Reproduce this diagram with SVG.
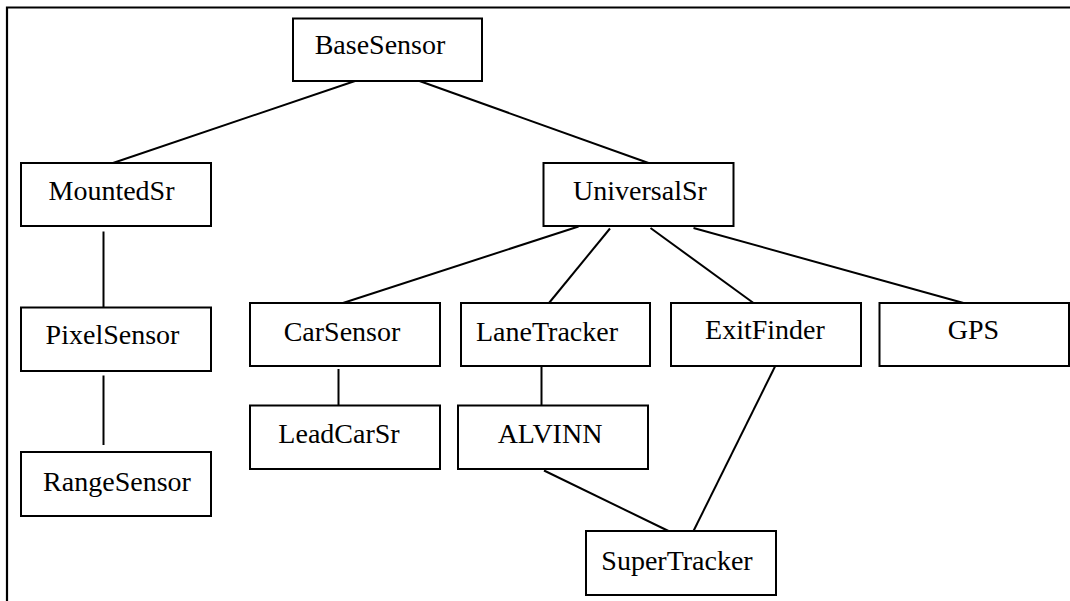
<svg xmlns="http://www.w3.org/2000/svg" width="1070" height="601" viewBox="0 0 1070 601">
  <style>
    .box { fill: #fff; stroke: #000; stroke-width: 2; }
    .lbl { font-family: "Liberation Serif", "Times New Roman", serif; font-size: 28px; fill: #000; text-anchor: middle; }
    .edge { stroke: #000; stroke-width: 2; fill: none; }
    .frame { stroke: #000; stroke-width: 2.2; fill: none; }
  </style>
  <rect width="1070" height="601" fill="#fff"/>
  <!-- outer frame (open at right and bottom) -->
  <path class="frame" d="M7,601 V7.5 H1070"/>

  <g id="connectors">
    <line class="edge" x1="355" y1="81" x2="113" y2="163"/>
    <line class="edge" x1="419.5" y1="81" x2="648.5" y2="163"/>
    <line class="edge" x1="103.5" y1="231.5" x2="103.5" y2="307"/>
    <line class="edge" x1="103.5" y1="375.5" x2="103.5" y2="445"/>
    <line class="edge" x1="578.5" y1="226.5" x2="343" y2="303"/>
    <line class="edge" x1="610" y1="228.5" x2="549" y2="303"/>
    <line class="edge" x1="650.5" y1="228" x2="753.5" y2="303"/>
    <line class="edge" x1="693.5" y1="228" x2="963.5" y2="303"/>
    <line class="edge" x1="338.5" y1="369" x2="338.5" y2="405.5"/>
    <line class="edge" x1="541.5" y1="366" x2="541.5" y2="405.5"/>
    <line class="edge" x1="544" y1="470.5" x2="668.5" y2="531"/>
    <line class="edge" x1="775" y1="366.5" x2="693.5" y2="531"/>
  </g>

  <g id="BaseSensor">
    <rect class="box" x="293" y="18.5" width="189" height="62.5"/>
    <text class="lbl" x="380" y="54">BaseSensor</text>
  </g>
  <g id="MountedSr">
    <rect class="box" x="21" y="163" width="190" height="63"/>
    <text class="lbl" x="111.5" y="200">MountedSr</text>
  </g>
  <g id="UniversalSr">
    <rect class="box" x="543.5" y="163" width="190" height="63"/>
    <text class="lbl" x="640" y="200">UniversalSr</text>
  </g>
  <g id="PixelSensor">
    <rect class="box" x="21" y="307.5" width="190" height="63.5"/>
    <text class="lbl" x="112.5" y="344">PixelSensor</text>
  </g>
  <g id="RangeSensor">
    <rect class="box" x="21" y="452" width="190" height="64"/>
    <text class="lbl" x="117" y="491">RangeSensor</text>
  </g>
  <g id="CarSensor">
    <rect class="box" x="250" y="303" width="190" height="63"/>
    <text class="lbl" x="342" y="340.5">CarSensor</text>
  </g>
  <g id="LaneTracker">
    <rect class="box" x="461" y="303" width="189" height="63"/>
    <text class="lbl" x="547" y="340.5">LaneTracker</text>
  </g>
  <g id="ExitFinder">
    <rect class="box" x="671" y="303" width="190" height="63"/>
    <text class="lbl" x="765" y="338.5">ExitFinder</text>
  </g>
  <g id="GPS">
    <rect class="box" x="879.5" y="303" width="189.5" height="63"/>
    <text class="lbl" x="973.5" y="338.5">GPS</text>
  </g>
  <g id="LeadCarSr">
    <rect class="box" x="250" y="405.5" width="190" height="63.5"/>
    <text class="lbl" x="339" y="442.5">LeadCarSr</text>
  </g>
  <g id="ALVINN">
    <rect class="box" x="458" y="405.5" width="190" height="63.5"/>
    <text class="lbl" x="550" y="443">ALVINN</text>
  </g>
  <g id="SuperTracker">
    <rect class="box" x="586" y="531" width="190" height="64"/>
    <text class="lbl" x="677" y="570">SuperTracker</text>
  </g>
</svg>
